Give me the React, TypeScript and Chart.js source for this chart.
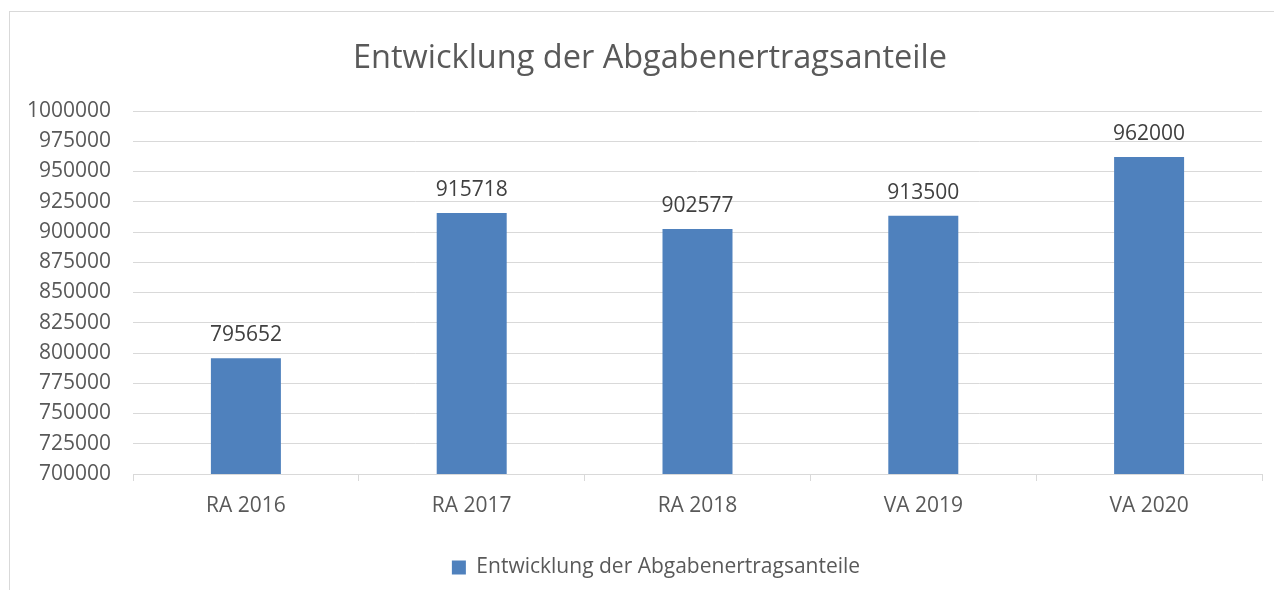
import React, { useEffect, useRef } from "react";
import { Chart, registerables } from "chart.js";

Chart.register(...registerables);

const categories = ["RA 2016", "RA 2017", "RA 2018", "VA 2019", "VA 2020"];
const seriesValues = [795652, 915718, 902577, 913500, 962000];
const seriesName = "Entwicklung der Abgabenertragsanteile";
const chartTitle = "Entwicklung der Abgabenertragsanteile";
const yMin = 700000;
const yMax = 1000000;
const yStep = 25000;

const FONT = "'Open Sans', 'Noto Sans', sans-serif";
const TEXT = "#595959";

const dataLabelPlugin = {
  id: "dataLabels",
  afterLayout(chart: any) {
    if (chart.legend) {
      chart.legend.left += 25;
      chart.legend.right += 25;
    }
    if (chart.titleBlock) {
      chart.titleBlock.left += 19;
      chart.titleBlock.right += 19;
    }
  },
  afterDatasetsDraw(chart: any) {
    const ctx = chart.ctx;
    const meta = chart.getDatasetMeta(0);
    ctx.save();
    ctx.font = `21px ${FONT}`;
    ctx.fillStyle = "#404040";
    ctx.textAlign = "center";
    ctx.textBaseline = "middle";
    meta.data.forEach((bar: any, i: number) => {
      ctx.fillText(String(seriesValues[i]), bar.x, bar.y - 23);
    });
    ctx.restore();
  },
};

export default function App() {
  const ref = useRef<HTMLCanvasElement | null>(null);
  useEffect(() => {
    if (!ref.current) return;
    const chart = new Chart(ref.current, {
      type: "bar",
      data: {
        labels: categories,
        datasets: [
          {
            label: seriesName,
            data: seriesValues,
            backgroundColor: "#4f81bd",
            borderWidth: 0,
            barPercentage: 0.31,
            categoryPercentage: 1,
          },
        ],
      },
      options: {
        animation: false,
        responsive: false,
        maintainAspectRatio: false,
        layout: { padding: { left: 0, right: 12, top: 0, bottom: 2 } },
        plugins: {
          title: {
            display: true,
            text: chartTitle,
            color: TEXT,
            font: { family: FONT, size: 32.5, weight: "normal" },
            padding: { top: 39, bottom: 33 },
          },
          legend: {
            display: true,
            position: "bottom",
            labels: {
              color: TEXT,
              font: { family: FONT, size: 21 },
              boxWidth: 14,
              boxHeight: 14,
              padding: 12,
            },
          },
          tooltip: { enabled: false },
        },
        scales: {
          x: {
            afterFit(scale: any) {
              scale.height = 71;
            },
            grid: {
              display: true,
              drawOnChartArea: false,
              drawTicks: true,
              tickLength: 7,
              color: "#d9d9d9",
              offset: true,
            },
            border: { display: true, color: "#d9d9d9" },
            ticks: {
              color: TEXT,
              font: { family: FONT, size: 21 },
              padding: 12,
            },
          },
          y: {
            min: yMin,
            max: yMax,
            afterFit(scale: any) {
              scale.width = 133;
            },
            grid: { color: "#d9d9d9", drawTicks: false },
            border: { display: false },
            ticks: {
              stepSize: yStep,
              color: TEXT,
              font: { family: FONT, size: 21 },
              padding: 22,
              callback: (v: any) => String(v),
            },
          },
        },
      },
      plugins: [dataLabelPlugin],
    });
    return () => chart.destroy();
  }, []);

  return (
    <div style={{ position: "fixed", left: 0, top: 0, width: 1274, height: 590, overflow: "hidden", background: "#fff" }}>
      <div
        style={{
          position: "absolute",
          left: 9,
          top: 11,
          width: 1300,
          height: 700,
          border: "1px solid #d9d9d9",
        }}
      />
      <canvas ref={ref} width={1274} height={590} style={{ position: "absolute", left: 0, top: 0 }} />
    </div>
  );
}
